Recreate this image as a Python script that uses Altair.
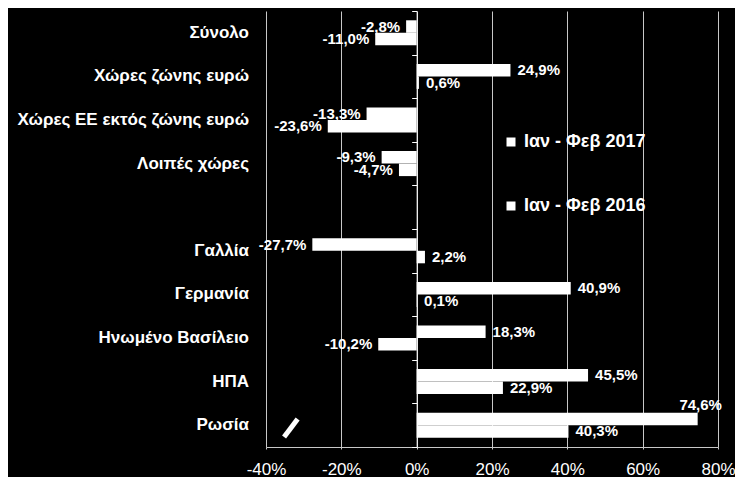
import altair as alt
import pandas as pd

categories = ['Σύνολο', 'Χώρες ζώνης ευρώ', 'Χώρες ΕΕ εκτός ζώνης ευρώ', 'Λοιπές χώρες', ' ',
              'Γαλλία', 'Γερμανία', 'Ηνωμένο Βασίλειο', 'ΗΠΑ', 'Ρωσία']
series = ['Ιαν - Φεβ 2017', 'Ιαν - Φεβ 2016']
v2017 = [-2.8, 24.9, -13.3, -9.3, None, -27.7, 40.9, 18.3, 45.5, 74.6]
v2016 = [-11.0, 0.6, -23.6, -4.7, None, 2.2, 0.1, -10.2, 22.9, 40.3]
x_ticks = [-40, -20, 0, 20, 40, 60, 80]

W, H = 452, 436
FONT = 'Liberation Sans'

rows = []
for cat, a, b in zip(categories, v2017, v2016):
    for s, v in ((series[0], a), (series[1], b)):
        if v is None:
            continue
        rows.append({'cat': cat, 'series': s, 'value': v,
                     'label': f'{v:.1f}%'.replace('.', ',')})
df = pd.DataFrame(rows)
cat_df = pd.DataFrame({'cat': [c for c in categories if c.strip()]})

zero_px = W * 40 / 120

y_enc = alt.Y('cat:N', title=None,
              scale=alt.Scale(domain=categories, paddingInner=0, paddingOuter=0),
              axis=alt.Axis(labels=False, offset=-zero_px, domainColor='white', domainWidth=1,
                            tickColor='white', tickSize=5, tickBand='extent', grid=False))
yoff = alt.YOffset('series:N', scale=alt.Scale(domain=series, paddingInner=0, paddingOuter=0.744))
x_enc = alt.X('value:Q', title=None,
              scale=alt.Scale(domain=[-40, 80], nice=False, zero=False),
              axis=alt.Axis(values=x_ticks, labelExpr="datum.value + '%'", grid=True,
                            gridColor='#c8c8c8', gridWidth=1, domainColor='#c8c8c8',
                            tickColor='#c8c8c8', tickSize=2, labelPadding=12, labelFlush=False,
                            labelFontSize=17, labelColor='white', labelFont=FONT))

base = alt.Chart(df)

bars = base.mark_bar(stroke=None).encode(
    x=x_enc, y=y_enc, yOffset=yoff,
    color=alt.Color('series:N', scale=alt.Scale(domain=series, range=['white', 'white']),
                    legend=alt.Legend(title=None, orient='none', legendX=236, legendY=122,
                                      padding=0, symbolType='square', symbolSize=81,
                                      symbolStrokeWidth=0, labelOffset=4, rowPadding=46,
                                      labelFont=FONT, labelFontSize=18, labelFontWeight='bold',
                                      labelColor='white'))
)

lab_style = dict(font=FONT, fontSize=15, fontWeight='bold', color='white', baseline='middle')
pos_labels = base.transform_filter('datum.value >= 0 && datum.value < 70').mark_text(
    align='left', dx=7, **lab_style).encode(x=x_enc, y=y_enc, yOffset=yoff, text='label:N')
neg_labels = base.transform_filter('datum.value < 0').mark_text(
    align='right', dx=-6, **lab_style).encode(x=x_enc, y=y_enc, yOffset=yoff, text='label:N')
big_labels = base.transform_filter('datum.value >= 70').mark_text(
    align='center', dx=3, dy=-14, **lab_style).encode(x=x_enc, y=y_enc, yOffset=yoff, text='label:N')

cat_labels = alt.Chart(cat_df).mark_text(
    align='right', baseline='middle', font=FONT, fontSize=17, fontWeight='bold', color='white'
).encode(x=alt.value(-17), y=y_enc, text='cat:N')

slash = alt.Chart(pd.DataFrame({'a': [0]})).mark_rule(color='white', strokeWidth=5).encode(
    x=alt.datum(-35.2), x2=alt.datum(-31.6), y=alt.value(426), y2=alt.value(408))

chart = alt.layer(bars, pos_labels, neg_labels, big_labels, cat_labels, slash).properties(
    width=W, height=H, background='black',
    autosize=alt.AutoSizeParams(type='none'),
    padding={'left': 258, 'top': 3, 'right': 17, 'bottom': 30}
).configure_view(stroke=None)

chart.save("out.html", embed_options={"renderer": "svg", "actions": False})
